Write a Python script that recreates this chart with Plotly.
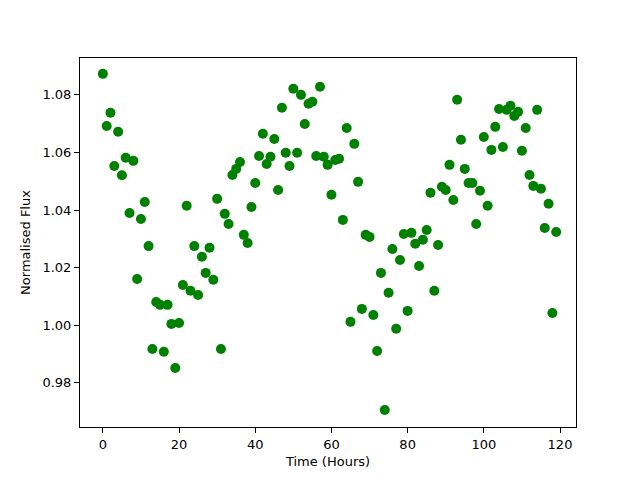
import plotly.graph_objects as go

time_hours = list(range(120))
flux = [
    1.0873, 1.0692, 1.0738, 1.0553, 1.0672, 1.0521, 1.0582, 1.0390, 1.0571, 1.0161,
    1.0369, 1.0428, 1.0275, 0.9918, 1.0081, 1.0071, 0.9908, 1.0071, 1.0005, 0.9852,
    1.0008, 1.0140, 1.0415, 1.0120, 1.0275, 1.0105, 1.0238, 1.0182, 1.0269, 1.0158,
    1.0439, 0.9918, 1.0387, 1.0352, 1.0522, 1.0543, 1.0567, 1.0314, 1.0286, 1.0411,
    1.0494, 1.0588, 1.0665, 1.0560, 1.0585, 1.0647, 1.0470, 1.0755, 1.0599, 1.0553,
    1.0821, 1.0599, 1.0800, 1.0699, 1.0769, 1.0776, 1.0588, 1.0828, 1.0585, 1.0557,
    1.0453, 1.0574, 1.0578, 1.0366, 1.0685, 1.0012, 1.0630, 1.0498, 1.0057, 1.0314,
    1.0307, 1.0036, 0.9911, 1.0182, 0.9706, 1.0113, 1.0265, 0.9988, 1.0227, 1.0317,
    1.0050, 1.0321, 1.0283, 1.0206, 1.0297, 1.0331, 1.0460, 1.0120, 1.0279, 1.0481,
    1.0470, 1.0557, 1.0435, 1.0783, 1.0644, 1.0543, 1.0494, 1.0494, 1.0352, 1.0467,
    1.0654, 1.0415, 1.0609, 1.0689, 1.0751, 1.0619, 1.0748, 1.0762, 1.0727, 1.0741,
    1.0606, 1.0685, 1.0522, 1.0484, 1.0748, 1.0474, 1.0338, 1.0422, 1.0043, 1.0324,
]
x_ticks = [0, 20, 40, 60, 80, 100, 120]
y_ticks = [0.98, 1.00, 1.02, 1.04, 1.06, 1.08]

fig = go.Figure(go.Scatter(
    x=time_hours, y=flux, mode="markers",
    marker=dict(color="#008000", size=10, line=dict(width=0)),
))

axis_common = dict(
    showgrid=False, zeroline=False, showline=True, linecolor="black", linewidth=1,
    mirror=True, ticks="outside", ticklen=5, tickcolor="black", automargin=False,
    tickfont=dict(family="DejaVu Sans", size=13, color="black"),
)
title_font = dict(family="DejaVu Sans", size=13, color="black")
fig.update_layout(
    width=632, height=472,
    margin=dict(l=72, r=64, t=50, b=53),
    paper_bgcolor="white", plot_bgcolor="white",
    showlegend=False,
    font=dict(family="DejaVu Sans", size=13, color="black"),
    xaxis=dict(range=[-6.0, 124.2], tickvals=x_ticks,
               title=dict(text="Time (Hours)", standoff=6, font=title_font), **axis_common),
    yaxis=dict(range=[0.9647, 1.0928], tickvals=y_ticks, tickformat=".2f",
               title=dict(text="Normalised Flux", standoff=8, font=title_font), **axis_common),
)
fig.write_html("out.html")
